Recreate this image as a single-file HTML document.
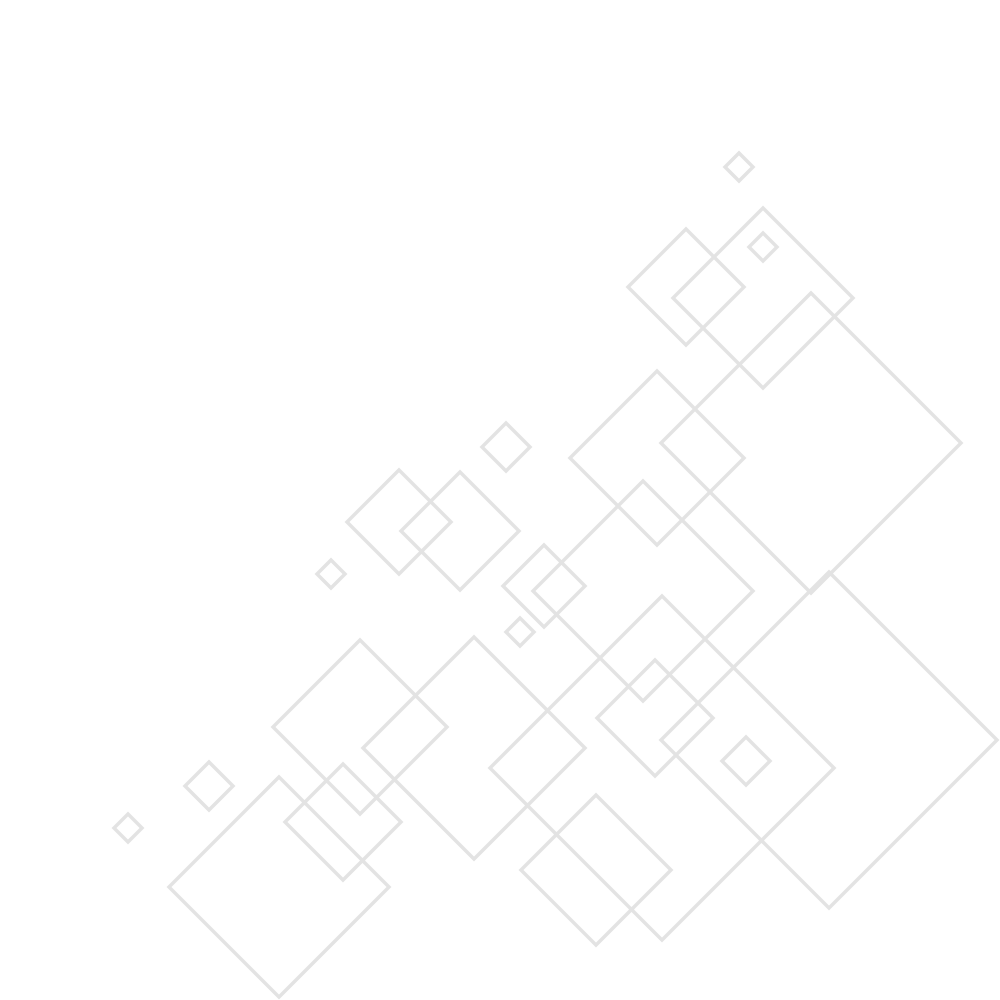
<!DOCTYPE html>
<html><head><meta charset="utf-8"><style>html,body{margin:0;padding:0;background:#fff;width:1000px;height:1000px;overflow:hidden}</style></head>
<body>
<svg width="1000" height="1000" viewBox="0 0 1000 1000" xmlns="http://www.w3.org/2000/svg">
<g fill="none" stroke="#e3e3e3" stroke-width="3.5" id="g"></g>
</svg>
<script>
var d=[[739,167,14],[686,287,58],[763,298,90],[763,247,14],[811,443,150],[657,458,87],[506,447,24],[399,522,52],[460,531,59],[331,574,14],[643,591,110],[544,586,41],[520,632,14],[829,740,168],[662,768,172],[655,718,58],[746,761,24],[360,727,87],[474,748,111],[343,822,58],[209,786,24],[128,828,14],[279,887,110],[596,870,75]];
var g=document.getElementById('g'),s='';
d.forEach(function(a){var x=a[0],y=a[1],r=a[2];s+='<polygon points="'+x+','+(y-r)+' '+(x+r)+','+y+' '+x+','+(y+r)+' '+(x-r)+','+y+'"/>';});
g.innerHTML=s;
</script>
</body></html>
